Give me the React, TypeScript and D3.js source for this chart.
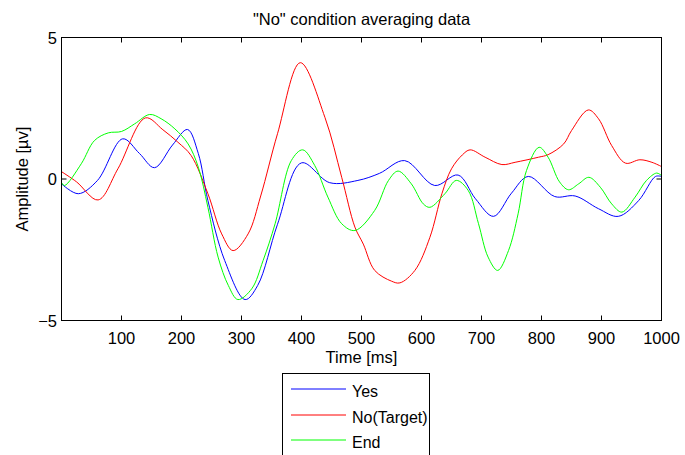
import React from "react";
import * as d3 from "d3";

const TITLE = '"No" condition averaging data';
const X_LABEL = "Time [ms]";
const Y_LABEL = "Amplitude [µv]";
const X_TICKS = [100, 200, 300, 400, 500, 600, 700, 800, 900, 1000];
const Y_TICKS = [-5, 0, 5];
const SERIES_NAMES = ["Yes", "No(Target)", "End"];
const SERIES_COLORS = ["#0000ff", "#ff0000", "#00ff00"];

const yesTimes = [0, 28, 60, 102, 130, 155, 185, 210, 228, 244, 272, 306, 327, 360, 400, 447, 494, 530, 572, 622, 661, 690, 720, 750, 778, 822, 856, 895, 928, 962, 990, 1000];
const yesValues = [-0.17, -0.52, -0.05, 1.42, 0.9, 0.4, 1.2, 1.75, 0.9, -0.76, -2.88, -4.26, -3.76, -1.6, 0.57, -0.13, -0.05, 0.2, 0.65, -0.23, 0.14, -0.7, -1.32, -0.5, 0.09, -0.62, -0.6, -1.05, -1.32, -0.76, 0.09, 0.09];

const noTimes = [0, 25, 61, 94, 140, 169, 194, 216, 244, 267, 286, 311, 332, 360, 398, 439, 467, 489, 503, 522, 550, 564, 589, 614, 634, 650, 668, 681, 706, 734, 756, 795, 811, 837, 850, 878, 895, 917, 940, 964, 984, 1000];
const noValues = [0.26, -0.1, -0.74, 0.36, 2.16, 1.74, 1.3, 0.83, -0.52, -1.94, -2.53, -1.94, -0.6, 1.6, 4.11, 2.18, 0.06, -1.7, -2.3, -3.23, -3.61, -3.67, -3.23, -2.06, -0.52, 0.36, 0.85, 1.03, 0.77, 0.51, 0.59, 0.77, 0.86, 1.24, 1.71, 2.44, 2.13, 1.18, 0.56, 0.68, 0.59, 0.44];

const endTimes = [0, 5, 33, 55, 78, 100, 122, 147, 166, 189, 211, 228, 244, 261, 278, 294, 317, 336, 356, 383, 402, 422, 444, 467, 489, 522, 545, 561, 583, 603, 614, 639, 658, 678, 695, 711, 727, 745, 761, 775, 796, 811, 830, 845, 862, 879, 898, 917, 934, 956, 975, 992, 1000];
const endValues = [-0.12, -0.23, 0.54, 1.36, 1.63, 1.68, 1.95, 2.28, 2.13, 1.77, 1.24, 0.42, -1.0, -2.76, -3.76, -4.26, -3.88, -2.88, -1.58, 0.65, 1.03, 0.48, -0.64, -1.58, -1.82, -1.11, -0.05, 0.28, -0.17, -0.88, -1.0, -0.52, -0.05, -0.41, -1.58, -2.76, -3.23, -2.53, -1.23, 0.3, 1.12, 0.77, -0.1, -0.38, -0.17, 0.06, -0.29, -0.88, -1.17, -0.64, -0.05, 0.21, 0.12];

const seriesTimes = [yesTimes, noTimes, endTimes];
const seriesValues = [yesValues, noValues, endValues];

const W = 685;
const H = 455;
const L = 61.5;
const R = 661.5;
const T = 37.5;
const B = 320.5;
const FONT = "'Liberation Sans', Arial, Helvetica, sans-serif";
const FS = 16.5;

export default function App() {
  const x = d3.scaleLinear().domain([0, 1000]).range([L, R]);
  const y = d3.scaleLinear().domain([-5, 5]).range([B, T]);
  const line = d3
    .line<[number, number]>()
    .x((d) => x(d[0]))
    .y((d) => y(d[1]))
    .curve(d3.curveCatmullRom.alpha(0.5));

  const tickLen = 5;
  const legX = 282.5;
  const legY = 373.5;
  const rowYs = [389, 415, 440];

  return (
    <svg
      width={W}
      height={H}
      style={{ position: "absolute", left: 0, top: 0, background: "#fff" }}
      fontFamily={FONT}
    >
      <rect x={0} y={0} width={W} height={H} fill="#fff" />
      <defs>
        <clipPath id="plotclip">
          <rect x={L} y={T} width={R - L} height={B - T} />
        </clipPath>
      </defs>
      <g clipPath="url(#plotclip)">
        {seriesTimes.map((ts, i) => (
          <path
            key={i}
            d={line(ts.map((t, j) => [t, seriesValues[i][j]] as [number, number])) || ""}
            fill="none"
            stroke={SERIES_COLORS[i]}
            strokeWidth={1}
          />
        ))}
      </g>
      <rect x={L} y={T} width={R - L} height={B - T} fill="none" stroke="#000" strokeWidth={1} />
      {X_TICKS.map((t) => (
        <g key={t}>
          <line x1={x(t)} x2={x(t)} y1={B} y2={B - tickLen} stroke="#000" />
          <line x1={x(t)} x2={x(t)} y1={T} y2={T + tickLen} stroke="#000" />
          <text x={x(t)} y={344} textAnchor="middle" fontSize={FS}>
            {t}
          </text>
        </g>
      ))}
      {Y_TICKS.map((v) => (
        <g key={v}>
          <line x1={L} x2={L + tickLen} y1={y(v)} y2={y(v)} stroke="#000" />
          <line x1={R} x2={R - tickLen} y1={y(v)} y2={y(v)} stroke="#000" />
          <text x={57} y={y(v) + 6} textAnchor="end" fontSize={FS}>
            {v < 0 ? "\u2212" + Math.abs(v) : v}
          </text>
        </g>
      ))}
      <text x={(L + R) / 2} y={25} textAnchor="middle" fontSize={FS}>
        {TITLE}
      </text>
      <text x={(L + R) / 2} y={363} textAnchor="middle" fontSize={FS}>
        {X_LABEL}
      </text>
      <text
        transform={`translate(28, ${(T + B) / 2}) rotate(-90)`}
        textAnchor="middle"
        fontSize={FS}
      >
        {Y_LABEL}
      </text>
      <rect x={legX} y={legY} width={147} height={100} fill="#fff" stroke="#000" strokeWidth={1} />
      {SERIES_NAMES.map((name, i) => (
        <g key={name}>
          <line x1={291} x2={346} y1={rowYs[i]} y2={rowYs[i]} stroke={SERIES_COLORS[i]} strokeWidth={1} />
          <text x={352} y={rowYs[i] + 7.5} fontSize={16}>
            {name}
          </text>
        </g>
      ))}
    </svg>
  );
}
